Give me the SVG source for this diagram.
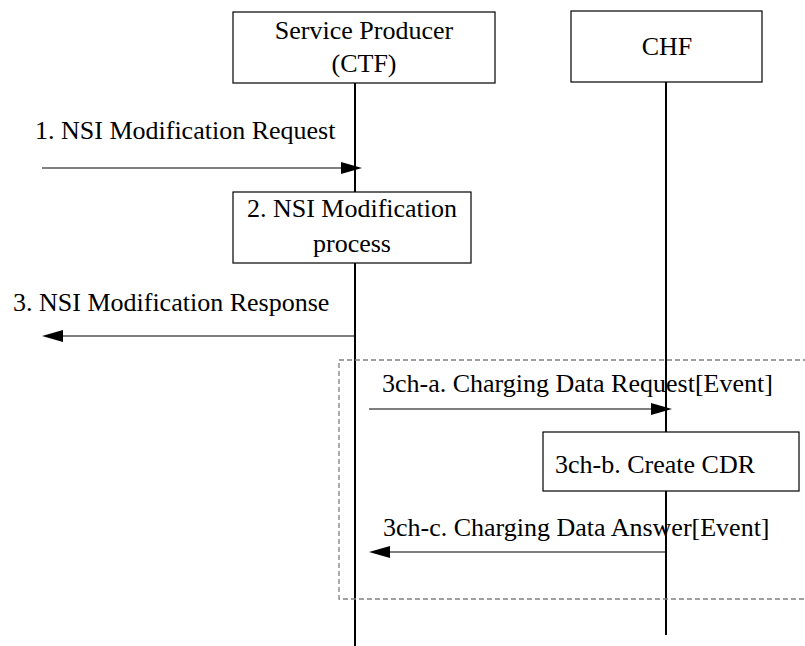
<svg xmlns="http://www.w3.org/2000/svg" width="805" height="646" viewBox="0 0 805 646">
<style>
text{font-family:'Liberation Serif','Times New Roman','DejaVu Serif',serif;font-size:26px;fill:#000}
.box{fill:#fff;stroke:#000;stroke-width:1.2}
.life{stroke:#000;stroke-width:2;fill:none}
.msg{stroke:#000;stroke-width:1.2;fill:none}
.head{fill:#000}
.grp{fill:none;stroke:#808080;stroke-width:1.3;stroke-dasharray:5,3}
</style>
<g id="lifelines">
<line class="life" x1="355" y1="83" x2="355" y2="646"/>
<line class="life" x1="666" y1="82" x2="666" y2="635"/>
</g>
<g id="group-3ch">
<polyline class="grp" points="808,360 339,360 339,599 808,599"/>
</g>
<g font-family="Liberation Serif, serif">
<g id="service-producer">
<rect class="box" x="233" y="12" width="262" height="71"/>
<text x="364" y="39" text-anchor="middle">Service Producer</text>
<text x="364" y="72" text-anchor="middle">(CTF)</text>
</g>
<g id="chf">
<rect class="box" x="571" y="11" width="191" height="71"/>
<text x="667" y="55" text-anchor="middle">CHF</text>
</g>
<g id="step2">
<rect class="box" x="233" y="192" width="238" height="71"/>
<text x="352" y="217" text-anchor="middle">2. NSI Modification</text>
<text x="352" y="252" text-anchor="middle">process</text>
</g>
<g id="step3ch-b">
<rect class="box" x="543" y="432" width="256" height="59"/>
<text x="555" y="473">3ch-b. Create CDR</text>
</g>
<g id="connectors">
<line class="msg" x1="42" y1="168" x2="345" y2="168"/>
<polygon class="head" points="362,168 341,162 341,174"/>
<line class="msg" x1="355" y1="336" x2="60" y2="336"/>
<polygon class="head" points="42,336 63,330 63,342"/>
<line class="msg" x1="369" y1="409" x2="655" y2="409"/>
<polygon class="head" points="672,409 651,403 651,415"/>
<line class="msg" x1="666" y1="552" x2="385" y2="552"/>
<polygon class="head" points="369,552 390,546 390,558"/>
</g>
<g id="labels">
<text x="35" y="139">1. NSI Modification Request</text>
<text x="13" y="311">3. NSI Modification Response</text>
<text x="382" y="392">3ch-a. Charging Data Request[Event]</text>
<text x="383" y="536">3ch-c. Charging Data Answer[Event]</text>
</g>
</g>
</svg>
